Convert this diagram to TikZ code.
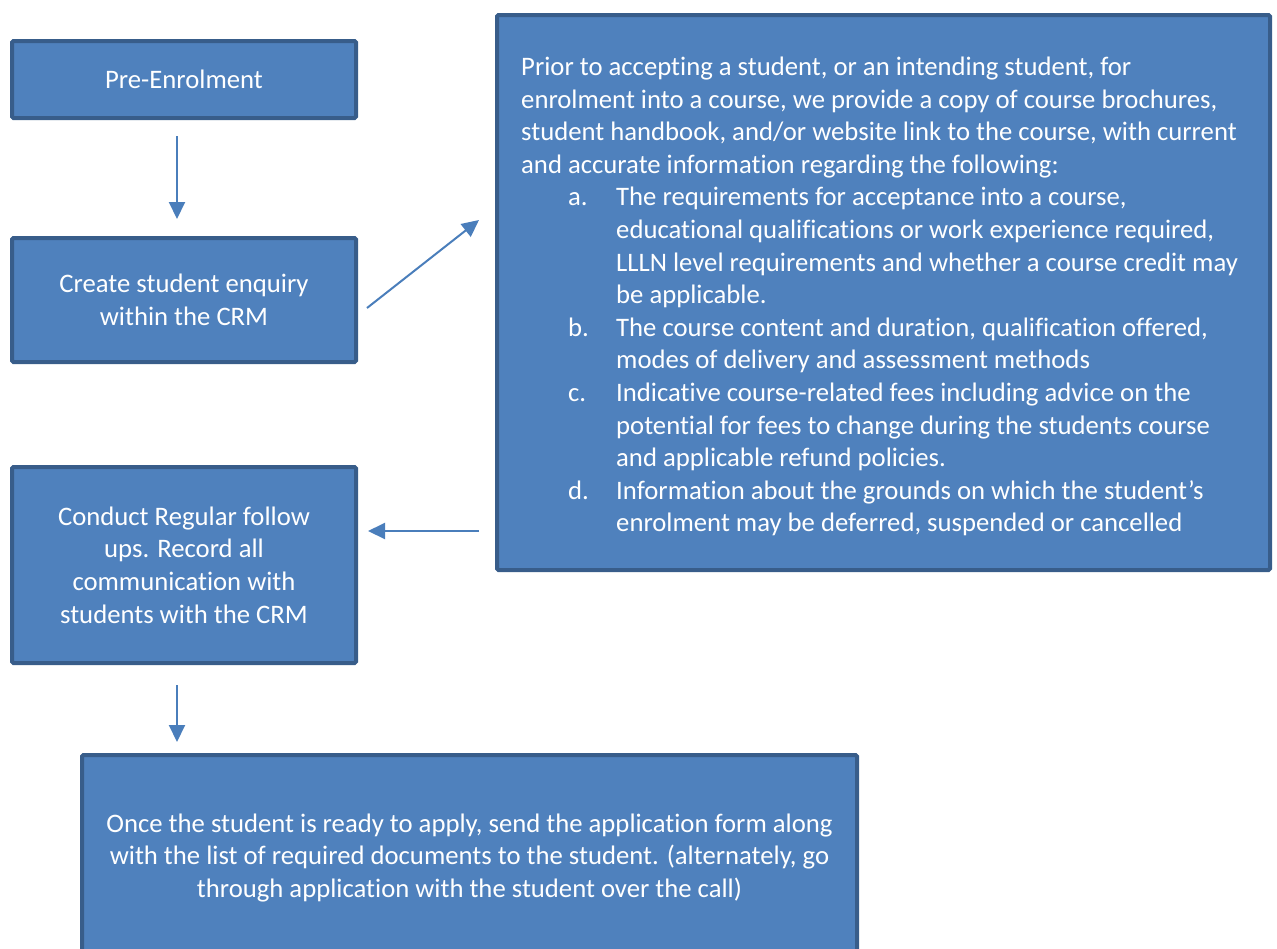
\documentclass[tikz,border=0pt]{standalone}
\usepackage{fontspec}
\setmainfont{Carlito}[Ligatures={NoCommon}]
\usetikzlibrary{arrows.meta,calc}
\definecolor{boxfill}{HTML}{4F81BD}
\definecolor{boxline}{HTML}{385D8A}
\definecolor{arrowc}{HTML}{4A7EBB}
\begin{document}
\begin{tikzpicture}[x=1pt,y=-1pt,
  flow/.style={draw=boxline, fill=boxfill, line width=4pt, rounded corners=1.5pt,
    outer sep=0pt, inner sep=0pt, text=white,
    font=\fontsize{26.7}{32.6}\selectfont, align=center},
  txt/.style={text=white, inner sep=0pt, font=\fontsize{26.7}{32.6}\selectfont, align=left},
  arr/.style={draw=arrowc, line width=2pt, -{Triangle[width=16pt,length=17pt]}}]
\useasboundingbox (0,0) rectangle (1277,948);
\clip (0,0) rectangle (1277,948);
\node[flow, minimum width=344pt, minimum height=77pt] (pre) at (184,79.5) {Pre-Enrolment};
\node[flow, minimum width=344pt, minimum height=124pt] (create) at (184,300) {Create student enquiry\\within the CRM};
\node[flow, minimum width=344pt, minimum height=196pt] (conduct) at (184,565) {Conduct Regular follow\\ups. Record all\\communication with\\students with the CRM};
\node[flow, minimum width=773pt, minimum height=555pt] (big) at (883.5,292.5) {};
\node[txt, anchor=west] (bigtext) at ($(big.west)+(24,4)$) {Prior to accepting a student, or an intending student, for\\
enrolment into a course, we provide a copy of course brochures,\\
student handbook, and/or website link to the course, with current\\
and accurate information regarding the following:\\
\hspace*{47pt}\makebox[48pt][l]{a.}The requirements for acceptance into a course,\\
\hspace*{95pt}educational qualifications or work experience required,\\
\hspace*{95pt}LLLN level requirements and whether a course credit may\\
\hspace*{95pt}be applicable.\\
\hspace*{47pt}\makebox[48pt][l]{b.}The course content and duration, qualification offered,\\
\hspace*{95pt}modes of delivery and assessment methods\\
\hspace*{47pt}\makebox[48pt][l]{c.}Indicative course-related fees including advice on the\\
\hspace*{95pt}potential for fees to change during the students course\\
\hspace*{95pt}and applicable refund policies.\\
\hspace*{47pt}\makebox[48pt][l]{d.}Information about the grounds on which the student’s\\
\hspace*{95pt}enrolment may be deferred, suspended or cancelled};
\node[flow, minimum width=775pt, minimum height=206pt] (bottom) at (469.5,858) {Once the student is ready to apply, send the application form along\\with the list of required documents to the student. (alternately, go\\through application with the student over the call)};
\draw[arr] ($(pre.south)+(-7,18)$) -- ($(create.north)+(-7,-19)$);
\draw[arr] ($(create.east)+(11,8)$) -- ($(big.west)+(-18,-72.5)$);
\draw[arr] ($(big.west)+(-18,238.5)$) -- ($(conduct.east)+(12,-34)$);
\draw[arr] ($(conduct.south)+(-7,22)$) -- ($(bottom.north)+(-292.5,-13)$);
\end{tikzpicture}
\end{document}
